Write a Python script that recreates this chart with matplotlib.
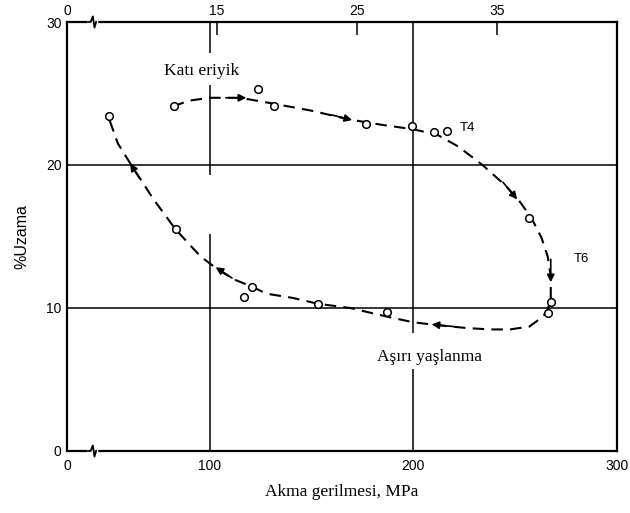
import numpy as np
import matplotlib.pyplot as plt

# measured points (MPa, % elongation)
point_x = [50.5, 82.4, 124, 131.4, 177, 199.5, 210, 216.7, 256.9, 267.6, 266, 187, 153.4, 120.6, 117, 83.3]
point_y = [23.4, 24.1, 25.3, 24.1, 22.9, 22.7, 22.3, 22.4, 16.3, 10.4, 9.65, 9.7, 10.3, 11.5, 10.8, 15.5]

# dashed path: solution treated -> T4 -> T6 -> overaged
curve_x = [82, 90, 100, 115, 131, 150, 168, 185, 200, 212, 222, 234, 245, 252, 258, 263, 266, 267.5,
           267.5, 266, 263.7, 257, 247.5, 237.7, 226, 211.8, 200, 187, 169, 153, 141, 128, 120.6,
           112, 104, 95.6, 83.3, 72.5, 62, 55, 50.5]
curve_y = [24.1, 24.5, 24.7, 24.7, 24.3, 23.8, 23.2, 22.8, 22.5, 22.1, 21.3, 20.0, 18.6, 17.5, 16.3,
           14.9, 13.6, 12.2, 10.7, 9.9, 9.4, 8.7, 8.5, 8.5, 8.6, 8.8, 9.0, 9.4, 10.0, 10.3, 10.7,
           11.0, 11.5, 12.0, 12.7, 13.6, 15.5, 17.6, 19.9, 21.5, 23.3]

# arrow heads along the path: (from, to)
arrows = [((108, 24.7), (118, 24.7)),
          ((160, 23.5), (170, 23.15)),
          ((244, 18.8), (251, 17.6)),
          ((267.5, 13.4), (267.5, 11.8)),
          ((220, 8.7), (209, 8.85)),
          ((111, 12.1), (103, 12.85)),
          ((65.5, 19.1), (61, 20.1))]

x_ticks = [100, 200, 300]
y_ticks = [0, 10, 20, 30]
ksi_ticks = [15, 25, 35]
MPA_PER_KSI = 6.895
X_LEFT = 30   # axis is broken, left edge is labelled 0

plt.rcParams['font.family'] = ['Liberation Sans', 'DejaVu Sans']
serif = ['Liberation Serif', 'DejaVu Serif']

fig = plt.figure(figsize=(6.3, 5.13), dpi=100)
ax = fig.add_axes([0.1063, 0.1209, 0.8730, 0.8362])
ax.set_xlim(X_LEFT, 300)
ax.set_ylim(0, 30)

for s in ax.spines.values():
    s.set_linewidth(1.6)

# grid lines, interrupted where the labels sit
ax.hlines([10, 20], X_LEFT, 300, color='black', lw=1.1)
ax.vlines(100, 0, 15.2, color='black', lw=1.1)
ax.vlines(100, 19.3, 25.6, color='black', lw=1.1)
ax.vlines(100, 27.8, 30, color='black', lw=1.1)
ax.vlines(200, 0, 5.7, color='black', lw=1.1)
ax.vlines(200, 8.25, 30, color='black', lw=1.1)

ax.plot(curve_x, curve_y, color='black', lw=1.5, linestyle=(0, (5.5, 3.5)))
ax.plot(point_x, point_y, 'o', mfc='white', mec='black', ms=5.5, mew=1.1, zorder=4)

for start, end in arrows:
    ax.annotate('', xy=end, xytext=start,
                arrowprops=dict(arrowstyle='-|>', color='black', lw=1.2,
                                mutation_scale=11, shrinkA=0, shrinkB=0))

ax.text(96, 26.6, 'Katı eriyik', family=serif, fontsize=12.5, ha='center', va='center')
ax.text(208, 6.6, 'Aşırı yaşlanma', family=serif, fontsize=12.5, ha='center', va='center')
ax.text(223, 22.6, 'T4', fontsize=9.5, ha='left', va='center')
ax.text(279, 13.4, 'T6', fontsize=9.5, ha='left', va='center')

ax.set_xticks([X_LEFT] + x_ticks)
ax.set_xticklabels(['0'] + [str(t) for t in x_ticks])
ax.set_yticks(y_ticks)
ax.set_yticklabels([str(t) for t in y_ticks])
ax.tick_params(axis='both', length=0, labelsize=10, pad=6)
ax.tick_params(axis='y', pad=4)

ax.set_xlabel('Akma gerilmesi, MPa', family=serif, fontsize=12.5, labelpad=8)
ax.set_ylabel('%Uzama', fontsize=11.5, labelpad=12)

# ksi scale on top
top = ax.twiny()
top.set_xlim(ax.get_xlim())
top.set_xticks([X_LEFT] + [k * MPA_PER_KSI for k in ksi_ticks])
top.set_xticklabels(['0'] + [str(k) for k in ksi_ticks])
top.tick_params(axis='x', direction='in', length=9, width=1.1, labelsize=10, pad=3)
for s in top.spines.values():
    s.set_visible(False)

# break marks on both horizontal axes
bx = np.array([0.040, 0.043, 0.047, 0.050, 0.053])
by = np.array([0.0, 0.0, 0.013, -0.013, 0.0])
for y0 in (0.0, 1.0):
    ax.plot([0.040, 0.053], [y0, y0], color='white', lw=2.5, transform=ax.transAxes, clip_on=False, zorder=5)
    ax.plot(bx, y0 + by, color='black', lw=1.3, transform=ax.transAxes, clip_on=False, zorder=6)

plt.savefig('out.png', dpi=100)
